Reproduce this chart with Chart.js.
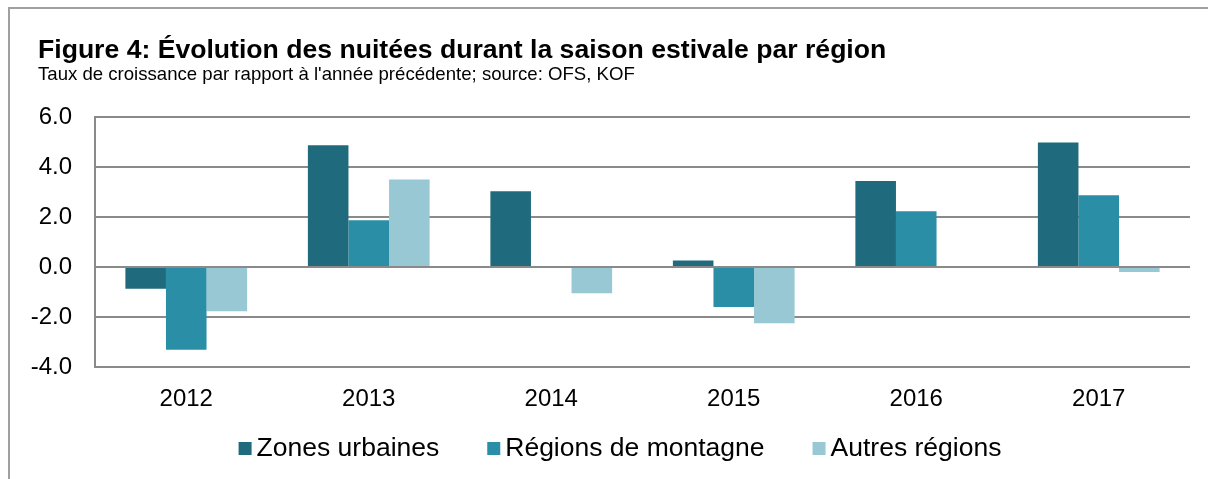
<!DOCTYPE html>
<html>
<head>
<meta charset="utf-8">
<script src="https://cdn.jsdelivr.net/npm/chart.js@4.4.0/dist/chart.umd.min.js"></script>
<style>
  html, body { margin: 0; padding: 0; background: #ffffff; }
  #wrap { position: relative; width: 1208px; height: 479px; overflow: hidden; background: #fff; }
  #frame { position: absolute; left: 8px; top: 7px; width: 1300px; height: 600px;
           border-left: 2px solid #a0a0a0; border-top: 2px solid #a0a0a0; }
  #title { position: absolute; left: 38px; top: 36px; font: bold 26.6px "Liberation Sans", Arial, sans-serif;
           line-height: 27px; color: #000; white-space: nowrap; }
  #subtitle { position: absolute; left: 38px; top: 64px; font: 18.6px "Liberation Sans", Arial, sans-serif;
              line-height: 19px; color: #000; white-space: nowrap; }
  canvas { position: absolute; left: 0; top: 0; }
</style>
</head>
<body>
<div id="wrap">
  <div id="frame"></div>
  <canvas id="c" width="1208" height="479"></canvas>
  <div id="title">Figure 4: Évolution des nuitées durant la saison estivale par région</div>
  <div id="subtitle">Taux de croissance par rapport à l'année précédente; source: OFS, KOF</div>
</div>
<script>
const categories = ['2012', '2013', '2014', '2015', '2016', '2017'];
const seriesNames = ['Zones urbaines', 'Régions de montagne', 'Autres régions'];
const zonesUrbaines = [-0.87, 4.87, 3.03, 0.26, 3.44, 4.98];
const regionsMontagne = [-3.31, 1.87, 0, -1.6, 2.23, 2.87];
const autresRegions = [-1.77, 3.5, -1.05, -2.25, 0, -0.2];
const yTickValues = [-4, -2, 0, 2, 4, 6];

const colors = ['#1f6a7c', '#2a8fa6', '#98c8d4'];
const FONT = '"Liberation Sans", Arial, sans-serif';

const customLegend = {
  id: 'customLegend',
  afterDraw(chart) {
    const ctx = chart.ctx;
    ctx.save();
    ctx.font = '26.5px ' + FONT;
    ctx.textBaseline = 'middle';
    ctx.textAlign = 'left';
    const box = 13, gapText = 5, gapItem = 48;
    const items = chart.data.datasets.map((ds, i) => ({
      label: ds.label, color: ds.backgroundColor, w: ctx.measureText(ds.label).width
    }));
    let total = 0;
    items.forEach((it, i) => { total += box + gapText + it.w + (i < items.length - 1 ? gapItem : 0); });
    let x = 620 - total / 2;
    const yMid = 448;
    items.forEach(it => {
      ctx.fillStyle = it.color;
      ctx.fillRect(x, yMid - 6, box, box);
      ctx.fillStyle = '#000';
      ctx.fillText(it.label, x + box + gapText, yMid + 1);
      x += box + gapText + it.w + gapItem;
    });
    ctx.restore();
  }
};

new Chart(document.getElementById('c'), {
  type: 'bar',
  data: {
    labels: categories,
    datasets: [
      { label: seriesNames[0], data: zonesUrbaines, backgroundColor: colors[0] },
      { label: seriesNames[1], data: regionsMontagne, backgroundColor: colors[1] },
      { label: seriesNames[2], data: autresRegions, backgroundColor: colors[2] }
    ]
  },
  options: {
    responsive: false,
    animation: false,
    devicePixelRatio: 1,
    layout: { padding: { left: 0, right: 18, top: 117, bottom: 72 } },
    datasets: { bar: { categoryPercentage: 0.667, barPercentage: 1.0, borderWidth: 0 } },
    plugins: {
      legend: { display: false },
      tooltip: { enabled: false },
      title: { display: false }
    },
    scales: {
      x: {
        grid: { display: false, drawTicks: false },
        border: { display: false },
        ticks: { color: '#000', font: { family: FONT, size: 24 }, padding: 18 },
        afterFit(scale) { scale.height = 40; }
      },
      y: {
        min: -4, max: 6,
        afterBuildTicks(scale) { scale.ticks = yTickValues.map(v => ({ value: v })); },
        grid: { color: '#8a8a8a', lineWidth: 2, drawTicks: false },
        border: { display: true, color: '#8a8a8a', width: 2 },
        ticks: {
          color: '#000', font: { family: FONT, size: 24 }, padding: 23,
          callback: v => Number(v).toFixed(1)
        },
        afterFit(scale) { scale.width = 95; }
      }
    }
  },
  plugins: [customLegend]
});
</script>
</body>
</html>
